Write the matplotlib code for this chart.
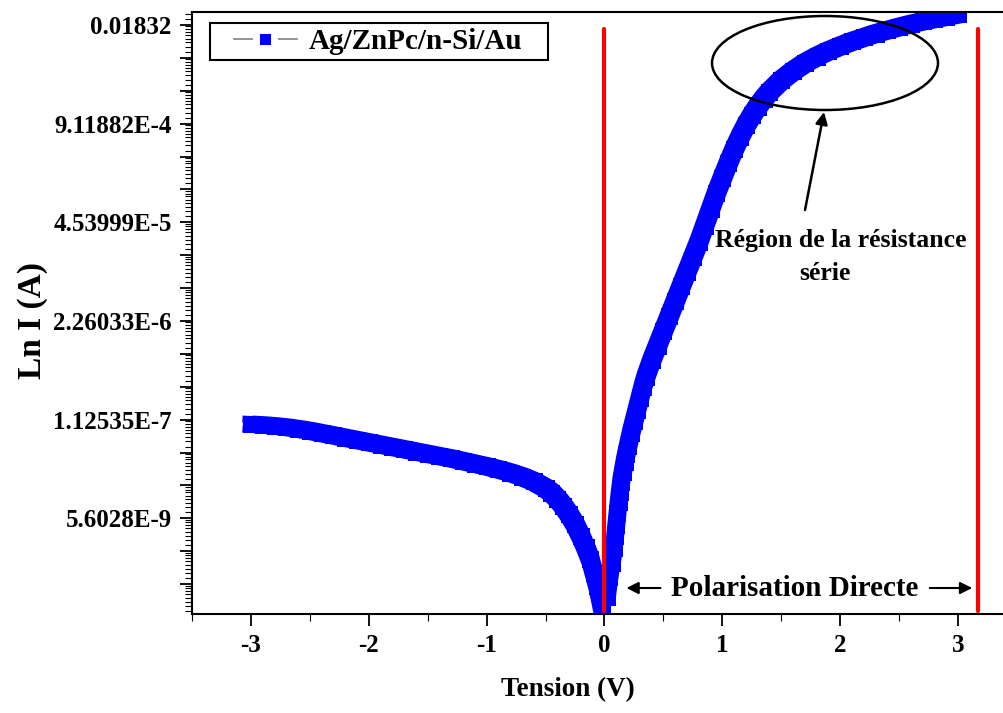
import numpy as np
import matplotlib
matplotlib.use("Agg")
import matplotlib.pyplot as plt
from matplotlib.patches import Ellipse, Rectangle
from matplotlib.lines import Line2D
from matplotlib.ticker import FixedLocator, FixedFormatter, MultipleLocator
from matplotlib.transforms import offset_copy

# ---------------- data ----------------
# Reverse bias branch: voltage (V) and ln I
V_rev = [-3.0, -2.9, -2.8, -2.7, -2.6, -2.5, -2.4, -2.3, -2.2, -2.1, -2.0,
         -1.9, -1.8, -1.7, -1.6, -1.5, -1.4, -1.3, -1.2, -1.1, -1.0,
         -0.9, -0.8, -0.7, -0.6, -0.5, -0.45, -0.4, -0.35, -0.3, -0.25,
         -0.2, -0.16, -0.12, -0.09, -0.06, -0.04, -0.02]
lnI_rev = [-16.14, -16.16, -16.19, -16.23, -16.28, -16.34, -16.41, -16.48, -16.55, -16.62, -16.69,
           -16.76, -16.83, -16.90, -16.97, -17.04, -17.11, -17.18, -17.26, -17.34, -17.42,
           -17.51, -17.61, -17.73, -17.88, -18.08, -18.22, -18.40, -18.62, -18.88, -19.18,
           -19.55, -19.88, -20.25, -20.65, -21.05, -21.40, -21.75]

# Forward bias branch
V_fwd = [0.02, 0.04, 0.06, 0.08, 0.09, 0.1, 0.11, 0.12, 0.13, 0.14, 0.155, 0.17, 0.185,
         0.2, 0.225, 0.25, 0.275, 0.3, 0.325, 0.35, 0.4, 0.45, 0.5, 0.55, 0.6, 0.65,
         0.7, 0.75, 0.8, 0.85, 0.9, 0.95, 1.0, 1.05, 1.1, 1.15, 1.2, 1.25, 1.3,
         1.35, 1.4, 1.5, 1.6, 1.7, 1.8, 1.9, 2.0, 2.1, 2.2, 2.3, 2.4, 2.5,
         2.6, 2.7, 2.8, 2.9, 3.0]
lnI_fwd = [-21.40, -20.80, -20.35, -19.90, -19.55, -19.20, -18.85, -18.50, -18.20, -17.90, -17.60, -17.30, -17.05,
           -16.80, -16.40, -16.05, -15.70, -15.35, -15.00, -14.70, -14.20, -13.75, -13.30, -12.85, -12.40, -11.95,
           -11.50, -11.05, -10.60, -10.10, -9.60, -9.10, -8.65, -8.20, -7.78, -7.40, -7.05, -6.75, -6.48,
           -6.24, -6.03, -5.68, -5.40, -5.16, -4.96, -4.79, -4.64, -4.50, -4.38, -4.26, -4.16, -4.06,
           -3.97, -3.89, -3.82, -3.75, -3.68]

series_label = "Ag/ZnPc/n-Si/Au"

# y axis: ln-scale ticks (powers of e) and their labels
ytick_ln = [-4, -7, -10, -13, -16, -19]
ytick_labels = ["0.01832", "9.11882E-4", "4.53999E-5", "2.26033E-6", "1.12535E-7", "5.6028E-9"]
xticks = [-3, -2, -1, 0, 1, 2, 3]
xtick_labels = ["-3", "-2", "-1", "0", "1", "2", "3"]

red_lines_V = [0.0, 3.17]

# ---------------- figure ----------------
plt.rcParams['font.family'] = ['Liberation Serif', 'DejaVu Serif']
plt.rcParams['font.weight'] = 'bold'

W, H = 1004, 713
fig = plt.figure(figsize=(W / 100, H / 100), dpi=100)
ax_l, ax_r, ax_t, ax_b = 192, 1017, 12, 614
axw, axh = ax_r - ax_l, ax_b - ax_t
ax = fig.add_axes([ax_l / W, (H - ax_b) / H, axw / W, axh / H])


def afx(px):   # pixel x -> axes fraction
    return (px - ax_l) / axw


def afy(py):   # pixel y -> axes fraction
    return (ax_b - py) / axh


blue = '#0000ff'
gray = '#808080'

ax.set_yscale('log', base=np.e)
ax.set_xlim(-3.5, 3.5)
ax.set_ylim(np.exp(-21.91), np.exp(-3.605))

# Band of overlapping square symbols: sweep of a square, approximated by
# a thinner line drawn at the four corner offsets of the square
sym_px = 17.0
core_px = 7.0
off = (sym_px - core_px) / 2.0
for Vs, Ls in [(V_rev, lnI_rev), (V_fwd, lnI_fwd)]:
    Is = np.exp(np.array(Ls))
    for dx in (-off, off):
        for dy in (-off, off):
            tr = offset_copy(ax.transData, fig=fig, x=dx, y=dy, units='dots')
            ax.plot(Vs, Is, color=blue, lw=core_px * 0.72, solid_capstyle='projecting',
                    solid_joinstyle='round', transform=tr, zorder=2)
    ax.plot(Vs, Is, color=blue, lw=sym_px * 0.72 * 0.7, solid_capstyle='butt',
            solid_joinstyle='round', zorder=2)
    ax.plot(Vs, Is, ls='none', marker='s', ms=sym_px * 0.72, mfc=blue, mec=blue,
            mew=0.0, zorder=2)

# y ticks: every integer ln, labelled every third
maj_ln = list(range(-21, -3))
maj_lab = [ytick_labels[ytick_ln.index(n)] if n in ytick_ln else '' for n in maj_ln]
ax.yaxis.set_major_locator(FixedLocator(np.exp(maj_ln)))
ax.yaxis.set_major_formatter(FixedFormatter(maj_lab))
subs = [1.2, 1.4, 1.6, 1.8, 2.0, 2.2, 2.4, 2.6]
minor = [np.exp(n) * k for n in range(-22, -3) for k in subs]
ax.yaxis.set_minor_locator(FixedLocator(minor))
ax.yaxis.set_minor_formatter(FixedFormatter([''] * len(minor)))

ax.set_xticks(xticks)
ax.set_xticklabels(xtick_labels)
ax.xaxis.set_minor_locator(MultipleLocator(0.5))

for s in ['left', 'bottom', 'top']:
    ax.spines[s].set_linewidth(1.5)
ax.spines['right'].set_visible(False)

ax.tick_params(axis='both', which='major', direction='out', length=8.5, width=1.3,
               labelsize=18, pad=6, top=False, right=False)
ax.tick_params(axis='both', which='minor', direction='out', length=5, width=0.8,
               top=False, right=False)
for lab in ax.get_xticklabels() + ax.get_yticklabels():
    lab.set_fontweight('bold')

ax.set_xlabel('Tension (V)', fontsize=19.5, fontweight='bold')
ax.xaxis.set_label_coords(0.456, -0.105)
ax.set_ylabel('Ln I (A)', fontsize=24, fontweight='bold')
ax.yaxis.set_label_coords(-0.175, 0.488)

# red vertical lines
for xv in red_lines_V:
    ax.axvline(xv, ymin=0.005, ymax=0.972, color='#ff0000', lw=3,
               solid_capstyle='round', zorder=3)

# legend (frame drawn separately to match Origin padding)
ax.add_patch(Rectangle((afx(210), afy(60)), afx(548) - afx(210), afy(22.5) - afy(60),
                       transform=ax.transAxes, fill=True, fc='white', ec='black',
                       lw=1.5, zorder=6))
proxy = Line2D([], [], color=gray, lw=1.2, marker='s', ms=13, mfc=blue,
               mec='white', mew=5, label=series_label)
leg = ax.legend(handles=[proxy], loc='center left', bbox_to_anchor=(afx(234), afy(41.5)),
                frameon=False, prop={'size': 21, 'weight': 'bold'}, handlelength=2.15,
                handletextpad=0.42, borderpad=0, borderaxespad=0)
leg.set_zorder(7)

# "Polarisation Directe" with arrows
y_pol = np.exp(-21.12)
ax.text(1.615, y_pol, 'Polarisation Directe', ha='center', va='center',
        fontsize=21, fontweight='bold', zorder=5)
arr = dict(arrowstyle='-|>', color='black', lw=1.5, mutation_scale=18,
           shrinkA=0, shrinkB=0)
ax.annotate('', xy=(0.186, y_pol), xytext=(0.475, y_pol), arrowprops=arr)
ax.annotate('', xy=(3.12, y_pol), xytext=(2.76, y_pol), arrowprops=arr)

# series-resistance region
ax.add_patch(Ellipse((afx(825), afy(63)), afx(938) - afx(712), afy(16) - afy(110),
                     transform=ax.transAxes, fill=False, ec='black', lw=1.8, zorder=4))
ax.annotate('', xy=(afx(824), afy(112)), xytext=(afx(805), afy(210)),
            xycoords='axes fraction',
            arrowprops=dict(arrowstyle='-|>', color='black', lw=1.8,
                            mutation_scale=18, shrinkA=0, shrinkB=0))
ax.text(afx(841), afy(240), 'Région de la résistance', transform=ax.transAxes,
        ha='center', va='center', fontsize=18.5, fontweight='bold')
ax.text(afx(825), afy(273), 'série', transform=ax.transAxes,
        ha='center', va='center', fontsize=18.5, fontweight='bold')

fig.savefig('out.png', dpi=100)
